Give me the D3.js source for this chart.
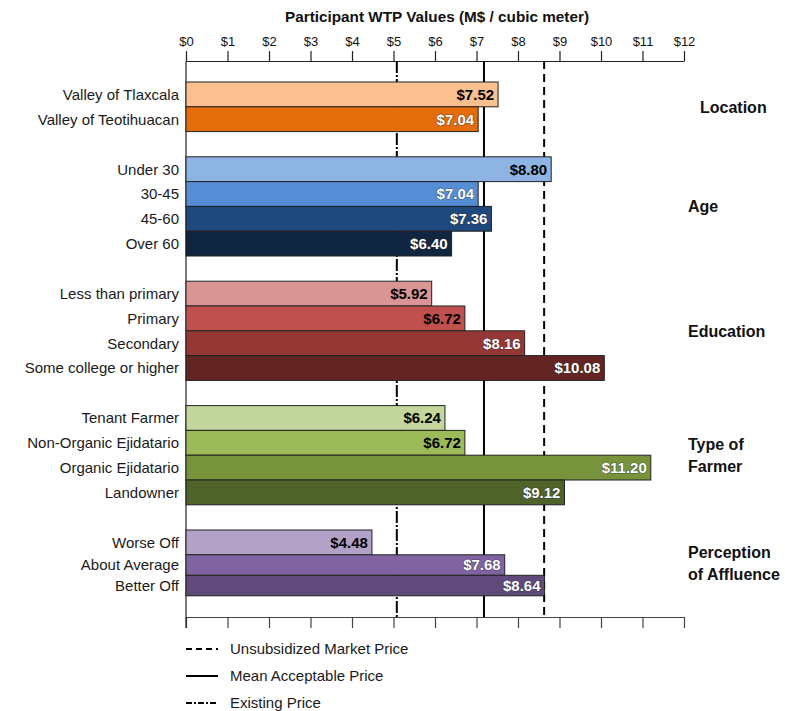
<!DOCTYPE html>
<html>
<head>
<meta charset="utf-8">
<script src="https://cdn.jsdelivr.net/npm/d3@7/dist/d3.min.js"></script>
<style>
  html, body { margin: 0; padding: 0; background: #fff; }
  svg { display: block; font-family: "Liberation Sans", Arial, sans-serif; }
</style>
</head>
<body>
<svg id="chart" width="785" height="711"></svg>
<script>
// ---------- data ----------
const groups = ["Location", "Age", "Education", "Type of Farmer", "Perception of Affluence"];
const groupLabelLines = [["Location"], ["Age"], ["Education"], ["Type of", "Farmer"], ["Perception", "of Affluence"]];
const categories = [
  ["Valley of Tlaxcala", "Valley of Teotihuacan"],
  ["Under 30", "30-45", "45-60", "Over 60"],
  ["Less than primary", "Primary", "Secondary", "Some college or higher"],
  ["Tenant Farmer", "Non-Organic Ejidatario", "Organic Ejidatario", "Landowner"],
  ["Worse Off", "About Average", "Better Off"]
];
const values = [
  [7.52, 7.04],
  [8.80, 7.04, 7.36, 6.40],
  [5.92, 6.72, 8.16, 10.08],
  [6.24, 6.72, 11.20, 9.12],
  [4.48, 7.68, 8.64]
];
const tickValues = [0,1,2,3,4,5,6,7,8,9,10,11,12];
const refNames = ["Unsubsidized Market Price", "Mean Acceptable Price", "Existing Price"];
const refValues = [8.63, 7.18, 5.08];

// ---------- styles ----------
const fills = [
  ["#FAC090", "#E46C0A"],
  ["#8EB4E3", "#558ED5", "#1F497D", "#10253F"],
  ["#D99694", "#C0504D", "#953735", "#632523"],
  ["#C3D69B", "#9BBB59", "#77933C", "#4F6228"],
  ["#B3A2C7", "#8064A2", "#604A7B"]
];
const inks = [
  ["#000", "#fff"],
  ["#000", "#fff", "#fff", "#fff"],
  ["#000", "#000", "#fff", "#fff"],
  ["#000", "#000", "#fff", "#fff"],
  ["#000", "#fff", "#fff"]
];
const refDash = ["8,5", null, "12,2,2,2"];

// ---------- layout ----------
const svg = d3.select("#chart");
const left = 186, right = 684, axisTop = 61, axisBottom = 617;
const x = d3.scaleLinear().domain([0, 12]).range([left, right]);

const rows = [];
groups.forEach((g, gi) => {
  categories[gi].forEach((c, ci) => {
    rows.push({ group: g, gi, ci, name: c, value: values[gi][ci], fill: fills[gi][ci], ink: inks[gi][ci] });
  });
});

const pitch = 24.8, gap = 25.2, firstTop = 82;
let cursor = firstTop;
const tops = [], heights = [];
rows.forEach((r, i) => {
  if (i > 0 && rows[i - 1].gi !== r.gi) cursor += gap;
  const h = (r.gi === 4 && r.ci > 0) ? 20.5 : pitch;
  tops.push(cursor); heights.push(h);
  cursor += h;
});
const yTop = d3.scaleOrdinal().domain(rows.map(r => r.name)).range(tops);
const yH = d3.scaleOrdinal().domain(rows.map(r => r.name)).range(heights);

// ---------- title ----------
svg.append("text")
  .attr("x", 437).attr("y", 22)
  .attr("text-anchor", "middle")
  .attr("font-size", 15.3).attr("font-weight", "bold").attr("fill", "#111")
  .text("Participant WTP Values (M$ / cubic meter)");

// ---------- axes ----------
const topAxis = d3.axisTop(x).tickValues(tickValues).tickSize(10).tickSizeOuter(0)
  .tickFormat(d => "$" + d).tickPadding(5);
const gTop = svg.append("g").attr("transform", `translate(0,${axisTop})`).call(topAxis);
gTop.select(".domain").attr("stroke", "#222").attr("stroke-width", 1.2);
gTop.selectAll(".tick line").attr("stroke", "#222").attr("stroke-width", 1.2);
gTop.selectAll(".tick text").attr("font-size", 13).attr("fill", "#111")
  .attr("font-family", "'Liberation Sans', Arial, sans-serif");

const botAxis = d3.axisBottom(x).tickValues(tickValues).tickSize(11).tickSizeOuter(0).tickFormat("");
const gBot = svg.append("g").attr("transform", `translate(0,${axisBottom})`).call(botAxis);
gBot.select(".domain").attr("stroke", "#444").attr("stroke-width", 1.2);
gBot.selectAll(".tick line").attr("stroke", "#444").attr("stroke-width", 1.2);

svg.append("line")
  .attr("x1", x(0)).attr("x2", x(0))
  .attr("y1", axisTop).attr("y2", axisBottom + 11)
  .attr("stroke", "#222").attr("stroke-width", 1.2);

// ---------- reference lines (behind bars) ----------
refValues.forEach((v, i) => {
  svg.append("line")
    .attr("x1", x(v)).attr("x2", x(v))
    .attr("y1", axisTop).attr("y2", axisBottom)
    .attr("stroke", "#000").attr("stroke-width", 2)
    .attr("stroke-dasharray", refDash[i]);
});

// ---------- bars ----------
svg.append("g").selectAll("rect").data(rows).join("rect")
  .attr("x", x(0))
  .attr("y", d => yTop(d.name))
  .attr("width", d => x(d.value) - x(0))
  .attr("height", d => yH(d.name))
  .attr("fill", d => d.fill)
  .attr("stroke", "#222").attr("stroke-width", 1);

svg.append("g").selectAll("text").data(rows).join("text")
  .attr("x", d => x(d.value) - 4)
  .attr("y", d => yTop(d.name) + yH(d.name) / 2)
  .attr("dy", "0.36em")
  .attr("text-anchor", "end")
  .attr("font-size", 15).attr("font-weight", "bold")
  .attr("fill", d => d.ink)
  .attr("stroke", d => d.ink === "#fff" ? "rgba(40,40,40,0.55)" : "none")
  .attr("stroke-width", 1.2)
  .attr("paint-order", "stroke")
  .text(d => "$" + d.value.toFixed(2));

svg.append("g").selectAll("text").data(rows).join("text")
  .attr("x", 179)
  .attr("y", d => yTop(d.name) + yH(d.name) / 2)
  .attr("dy", "0.36em")
  .attr("text-anchor", "end")
  .attr("font-size", 15).attr("fill", "#1a1a1a")
  .text(d => d.name);

groups.forEach((g, gi) => {
  const gr = rows.filter(r => r.gi === gi);
  const y0 = yTop(gr[0].name), last = gr[gr.length - 1];
  const y1 = yTop(last.name) + yH(last.name);
  const mid = (y0 + y1) / 2;
  const lines = groupLabelLines[gi];
  const lh = 22;
  const t = svg.append("text")
    .attr("font-size", 16).attr("font-weight", "bold").attr("fill", "#111");
  lines.forEach((ln, li) => {
    t.append("tspan")
      .attr("x", gi === 0 ? 700 : 688)
      .attr("y", mid + (li - (lines.length - 1) / 2) * lh)
      .attr("dy", "0.36em")
      .text(ln);
  });
});

// ---------- legend ----------
const legendY = [649, 676, 703];
refNames.forEach((n, i) => {
  svg.append("line")
    .attr("x1", 186).attr("x2", 218)
    .attr("y1", legendY[i]).attr("y2", legendY[i])
    .attr("stroke", "#000").attr("stroke-width", 2)
    .attr("stroke-dasharray", refDash[i] ? (i === 0 ? "6,4" : "6,2,2,2") : null);
  svg.append("text")
    .attr("x", 230).attr("y", legendY[i]).attr("dy", "0.36em")
    .attr("font-size", 15).attr("fill", "#1a1a1a")
    .text(n);
});
</script>
</body>
</html>
